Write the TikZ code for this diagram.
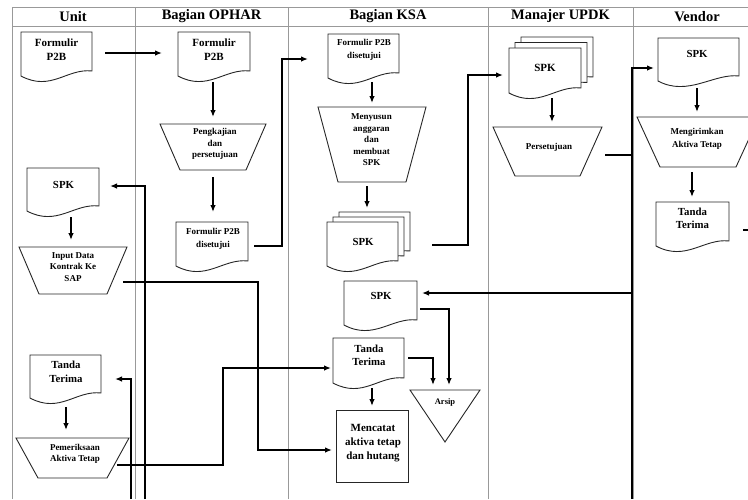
\documentclass[tikz,border=0pt]{standalone}
\usepackage{fontspec}
\setmainfont{Liberation Serif}
\usetikzlibrary{arrows.meta,calc}
\pgfdeclarelayer{lanes}
\pgfdeclarelayer{shapes}
\pgfsetlayers{lanes,shapes,main}
\newcommand\drawdoc[2]{\begin{pgfonlayer}{shapes}\draw[shp] ($(#2.north west)+(#1)$) -- ($(#2.north east)+(#1)$) -- ($(#2.south east)+(#1)+(0,-9)$) .. controls ($(#2.south east)+(#1)+(-25,-12)$) and ($(#2.south west)+(#1)+(30,12)$) .. ($(#2.south west)+(#1)+(0,-4)$) -- cycle;\end{pgfonlayer}}
\newcommand\drawtrap[2]{\begin{pgfonlayer}{shapes}\draw[shp] (#1.north west) -- (#1.north east) -- ($(#1.south east)+(-#2,0)$) -- ($(#1.south west)+(#2,0)$) -- cycle;\end{pgfonlayer}}
\begin{document}
\begin{tikzpicture}[x=1pt,y=-1pt,
  lane/.style={draw=black!40, line width=0.9pt},
  conn/.style={draw=black, line width=1.3pt},
  arr/.style={conn, -{Latex[length=7pt,width=5.5pt]}},
  shp/.style={draw=black!85, line width=0.9pt, fill=white},
  sbox/.style={inner sep=0pt, outer sep=0pt},
  dtxt/.style 2 args={inner sep=0pt, align=center, font=\bfseries\fontsize{#1}{#2}\selectfont},
  hdr/.style={inner sep=0pt, font=\bfseries\fontsize{14.5}{16}\selectfont}
]
\useasboundingbox (0,0) rectangle (748,499);

% lanes and header
\begin{pgfonlayer}{lanes}
\draw[lane] (12,499) -- (12,7) -- (748,7);
\draw[lane] (12,26) -- (748,26);
\foreach \x in {135,288,488,633} \draw[lane] (\x,7) -- (\x,499);
\end{pgfonlayer}
\node[hdr] (hu) at (73,16.5) {Unit};
\node[hdr] (ho) at (211.5,16.5) {Bagian OPHAR};
\node[hdr] (hk) at (388,16.5) {Bagian KSA};
\node[hdr] (hm) at (560.5,16.5) {Manajer UPDK};
\node[hdr] (hv) at (697,16.5) {Vendor};

% Unit lane
\node[sbox, minimum width=71pt, minimum height=48pt] (u1) at (56.5,56) {};
\drawdoc{0,0}{u1}
\node[dtxt={11}{14}] (u1t) at (56.5,50) {Formulir\\P2B};

\node[sbox, minimum width=72pt, minimum height=47pt] (u2) at (63,191.5) {};
\drawdoc{0,0}{u2}
\node[dtxt={10.8}{13}] (u2t) at (63.5,185) {SPK};

\node[sbox, minimum width=108pt, minimum height=47pt] (u3) at (73,270.5) {};
\drawtrap{u3}{20}
\node[dtxt={9}{11.7}] (u3t) at (73,267) {Input Data\\Kontrak Ke\\SAP};

\node[sbox, minimum width=71pt, minimum height=47pt] (u4) at (65.5,378.5) {};
\drawdoc{0,0}{u4}
\node[dtxt={10.8}{14}] (u4t) at (66,372) {Tanda\\Terima};

\node[sbox, minimum width=113pt, minimum height=40pt] (u5) at (72.5,458) {};
\drawtrap{u5}{22}
\node[dtxt={9}{11}] (u5t) at (75,453.5) {Pemeriksaan\\Aktiva Tetap};

% OPHAR lane
\node[sbox, minimum width=72pt, minimum height=48pt] (o1) at (214,56) {};
\drawdoc{0,0}{o1}
\node[dtxt={11}{14}] (o1t) at (214,50) {Formulir\\P2B};

\node[sbox, minimum width=106pt, minimum height=46pt] (o2) at (213,147) {};
\drawtrap{o2}{20}
\node[dtxt={9}{11.7}] (o2t) at (215,144) {Pengkajian\\dan\\persetujuan};

\node[sbox, minimum width=72pt, minimum height=48pt] (o3) at (212,246) {};
\drawdoc{0,0}{o3}
\node[dtxt={9}{12.5}] (o3t) at (213,239) {Formulir P2B\\disetujui};

% KSA lane
\node[sbox, minimum width=71pt, minimum height=48pt] (k1) at (363.5,58) {};
\drawdoc{0,0}{k1}
\node[dtxt={9}{13.5}] (k1t) at (364,50) {Formulir P2B\\disetujui};

\node[sbox, minimum width=108pt, minimum height=75pt] (k2) at (372,144.5) {};
\drawtrap{k2}{20}
\node[dtxt={9}{11.5}] (k2t) at (371.5,140) {Menyusun\\anggaran\\dan\\membuat\\SPK};

\node[sbox, minimum width=71pt, minimum height=48pt] (k3) at (362.5,246) {};
\drawdoc{12,-10}{k3}
\drawdoc{6,-5}{k3}
\drawdoc{0,0}{k3}
\node[dtxt={10.8}{13}] (k3t) at (363,242) {SPK};

\node[sbox, minimum width=73pt, minimum height=48pt] (k4) at (380.5,305) {};
\drawdoc{0,0}{k4}
\node[dtxt={10.8}{13}] (k4t) at (381,296) {SPK};

\node[sbox, minimum width=71pt, minimum height=49pt] (k5) at (368.5,362.5) {};
\drawdoc{0,0}{k5}
\node[dtxt={10.8}{13}] (k5t) at (369,355.5) {Tanda\\Terima};

\node[sbox, minimum width=72pt, minimum height=72pt] (k6) at (372,446) {};
\begin{pgfonlayer}{shapes}\draw[shp] (k6.north west) rectangle (k6.south east);\end{pgfonlayer}
\node[dtxt={11}{14}] (k6t) at (373,443) {Mencatat\\aktiva tetap\\dan hutang};

\node[sbox, minimum width=70pt, minimum height=52pt] (k7) at (445,416) {};
\begin{pgfonlayer}{shapes}\draw[shp] (k7.north west) -- (k7.north east) -- (k7.south) -- cycle;\end{pgfonlayer}
\node[dtxt={8.5}{10}] (k7t) at (445,402) {Arsip};

% UPDK lane
\node[sbox, minimum width=72pt, minimum height=49pt] (m1) at (545,72.5) {};
\drawdoc{12,-11}{m1}
\drawdoc{6,-5.5}{m1}
\drawdoc{0,0}{m1}
\node[dtxt={11}{13}] (m1t) at (545,68) {SPK};

\node[sbox, minimum width=109pt, minimum height=49pt] (m2) at (547.5,151.5) {};
\drawtrap{m2}{22}
\node[dtxt={9}{11}] (m2t) at (549,147) {Persetujuan};

% Vendor lane
\node[sbox, minimum width=81pt, minimum height=47pt] (v1) at (698.5,61.5) {};
\drawdoc{0,0}{v1}
\node[dtxt={10.8}{13}] (v1t) at (697,54) {SPK};

\node[sbox, minimum width=122pt, minimum height=50pt] (v2) at (698,142) {};
\drawtrap{v2}{23}
\node[dtxt={9}{13}] (v2t) at (697,138.5) {Mengirimkan\\Aktiva Tetap};

\node[sbox, minimum width=73pt, minimum height=48pt] (v3) at (692.5,226) {};
\drawdoc{0,0}{v3}
\node[dtxt={10.8}{13}] (v3t) at (692.5,218.5) {Tanda\\Terima};

% free ends
\coordinate (b145) at (145,499);
\coordinate (b131) at (131,499);
\coordinate (b632) at (632,499);
\coordinate (j293) at (632,293);
\coordinate (vout) at (749,230);

% connectors
\draw[arr] ($(u1.east)+(13,-3)$) -- ($(o1.west)+(-16,-3)$);
\draw[arr] ($(o1.south)+(-1,2)$) -- ($(o2.north)+(0,-7)$);
\draw[arr] ($(o2.south)+(0,7)$) -- ($(o3.north)+(1,-10)$);
\draw[arr] ($(o3.east)+(6,0)$) -- ++(28,0) |- ($(k1.west)+(-20,1)$);
\draw[arr] (k1.south -| k2.north) -- ($(k2.north)+(0,-4)$);
\draw[arr] ($(k2.south)+(-5,4)$) -- ($(k3.north)+(4.5,-14)$);
\draw[arr] ($(k3.east)+(34,-1)$) -- ++(36,0) |- ($(m1.west)+(-6,2.5)$);
\draw[arr] ($(m1.south)+(7,1)$) -- ($(m2.north)+(4.5,-5)$);
\draw[arr] ($(m2.east)+(3,3.5)$) -- ++(27,0) |- ($(v1.west)+(-4,6.5)$);
\draw[conn] ($(m2.east)+(30,3.5)$) -- (b632);
\draw[arr] (j293) -- ($(k4.east)+(5,-12)$);
\draw[conn] ($(v3.east)+(14,4)$) -- (vout);
\draw[arr] ($(v1.south)+(-1.5,3)$) -- ($(v2.north)+(-1,-5)$);
\draw[arr] ($(v2.south)+(-6,5)$) -- ($(v3.north)+(-0.5,-5)$);
\draw[arr] ($(u2.south)+(8,2)$) -- ($(u3.north)+(-2,-7)$);
\draw[arr] ($(u3.east)+(-4,11.5)$) -- ++(135,0) |- ($(k6.west)+(-4,4)$);
\draw[arr] (b145) |- ($(u2.east)+(11,-5.5)$);
\draw[arr] (b131) |- ($(u4.east)+(14,0.5)$);
\draw[arr] ($(u4.south)+(0.5,5)$) -- ($(u5.north)+(-6.5,-8)$);
\draw[arr] ($(u5.east)+(-12,7)$) -- ++(106,0) |- ($(k5.west)+(-2,5.5)$);
\draw[arr] ($(k4.east)+(3,4)$) -| ($(k7.north)+(4,-5)$);
\draw[arr] ($(k5.east)+(4,-4.5)$) -| ($(k7.north)+(-12,-5)$);
\draw[arr] ($(k5.south)+(3.5,1)$) -- ($(k6.north)+(0,-4)$);
\end{tikzpicture}
\end{document}
